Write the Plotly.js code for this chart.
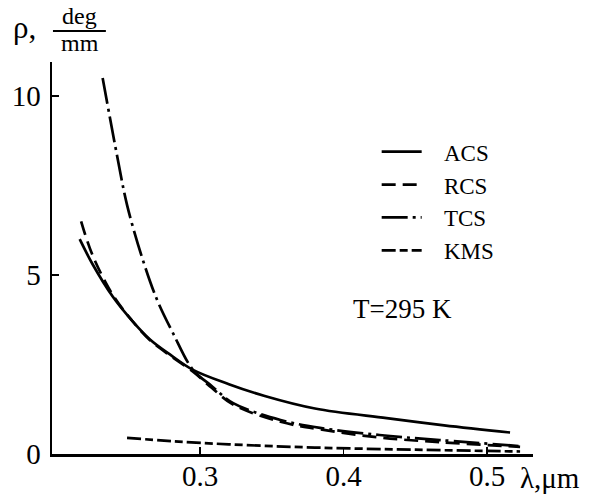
<!DOCTYPE html>
<html>
<head>
<meta charset="utf-8">
<script src="https://cdn.plot.ly/plotly-3.0.1.min.js"></script>
<style>
  html, body { margin: 0; padding: 0; background: #fff; }
  #chart { width: 599px; height: 495px; }
</style>
</head>
<body>
<div id="chart"></div>
<script>
// Optical rotation dispersion, rho (deg/mm) versus wavelength (um), T = 295 K
const acsWavelength = [0.216, 0.225, 0.239, 0.252, 0.265, 0.28, 0.295, 0.32, 0.345, 0.38, 0.43, 0.47, 0.516];
const acsRho        = [6.0,   5.3,   4.4,   3.75,  3.2,   2.75, 2.35,  1.95, 1.62,  1.27, 1.0,  0.8,  0.6];

const rcsWavelength = [0.217, 0.225, 0.239, 0.252, 0.265, 0.28, 0.295, 0.308, 0.323, 0.356, 0.385, 0.425, 0.467, 0.523];
const rcsRho        = [6.5,   5.55,  4.45,  3.75,  3.18,  2.72, 2.3,   1.85,  1.38,  0.9,   0.68,  0.46,  0.33,  0.2];

const tcsWavelength = [0.232, 0.2427, 0.249, 0.2594, 0.27, 0.281, 0.295, 0.308, 0.323, 0.356, 0.3835, 0.425, 0.467, 0.523];
const tcsRho        = [10.5,  8.2,    6.96,  5.5,    4.3,  3.38,  2.35,  1.9,   1.42,  0.95,  0.73,   0.53,  0.39,  0.22];

const kmsWavelength = [0.249, 0.28, 0.32, 0.38, 0.45, 0.523];
const kmsRho        = [0.45,  0.36, 0.27, 0.18, 0.12, 0.07];

const seriesNames = ["ACS", "RCS", "TCS", "KMS"];
const xTickValues = [0.3, 0.4, 0.5];
const xTickLabels = ["0.3", "0.4", "0.5"];
const yTickValues = [0, 5, 10];
const yTickLabels = ["0", "5", "10"];

const ink = "#000";
const serif = "Liberation Serif, Times New Roman, serif";

function curve(x, y, name, dash) {
  return {
    type: "scatter", mode: "lines", name: "\u00a0\u00a0\u00a0" + name, x: x, y: y,
    line: { color: ink, width: 2.7, dash: dash, shape: "spline", smoothing: 1 },
    hoverinfo: "skip"
  };
}

const traces = [
  curve(acsWavelength, acsRho, seriesNames[0], "solid"),
  curve(rcsWavelength, rcsRho, seriesNames[1], "14px,7px"),
  curve(tcsWavelength, tcsRho, seriesNames[2], "26px,5px,3px,5px"),
  curve(kmsWavelength, kmsRho, seriesNames[3], "14px,4px,8px,4px")
];

const layout = {
  width: 599, height: 495,
  margin: { l: 52, r: 66, t: 62, b: 41, pad: 0 },
  paper_bgcolor: "#fff", plot_bgcolor: "#fff",
  font: { family: serif, color: ink, size: 28 },
  showlegend: true,
  legend: {
    x: 0.675, y: 0.826, xanchor: "left", yanchor: "top",
    bgcolor: "rgba(0,0,0,0)", borderwidth: 0,
    font: { family: serif, size: 23, color: ink },
    itemwidth: 40, tracegroupgap: 0
  },
  xaxis: {
    range: [0.1967, 0.532], showgrid: false, zeroline: false,
    showline: true, linecolor: ink, linewidth: 2.5,
    ticks: "inside", ticklen: 7, tickwidth: 1.5, tickcolor: ink,
    tickvals: xTickValues, ticktext: xTickLabels,
    tickfont: { family: serif, size: 29, color: ink },
    ticklabelstandoff: -5
  },
  yaxis: {
    range: [0, 10.95], showgrid: false, zeroline: false,
    showline: true, linecolor: ink, linewidth: 2.5,
    ticks: "inside", ticklen: 7, tickwidth: 1.5, tickcolor: ink,
    tickvals: yTickValues, ticktext: yTickLabels,
    tickfont: { family: serif, size: 29, color: ink },
    ticklabelstandoff: 3
  },
  annotations: [
    { xref: "paper", yref: "paper", x: 0.835, y: 0.37, text: "T=295 K",
      showarrow: false, font: { family: serif, size: 27, color: ink } },
    // y-axis quantity: rho, deg over mm
    { xref: "paper", yref: "paper", x: -0.085, y: 1.088, xanchor: "left", yanchor: "middle",
      text: "ρ,", showarrow: false, font: { family: serif, size: 31, color: ink } },
    { xref: "paper", yref: "paper", x: 0.058, y: 1.117, xanchor: "center", yanchor: "middle",
      text: "deg", showarrow: false, font: { family: serif, size: 24, color: ink } },
    { xref: "paper", yref: "paper", x: 0.058, y: 1.049, xanchor: "center", yanchor: "middle",
      text: "mm", showarrow: false, font: { family: serif, size: 24, color: ink } },
    // x-axis quantity
    { xref: "paper", yref: "paper", x: 0.968, y: -0.062, xanchor: "left", yanchor: "middle",
      text: "λ,μm", showarrow: false, font: { family: serif, size: 29, color: ink } }
  ],
  shapes: [
    { type: "line", xref: "paper", yref: "paper", x0: 0.002, x1: 0.112, y0: 1.079, y1: 1.079,
      line: { color: ink, width: 2 } }
  ]
};

Plotly.newPlot("chart", traces, layout, { staticPlot: true, displayModeBar: false });
</script>
</body>
</html>
